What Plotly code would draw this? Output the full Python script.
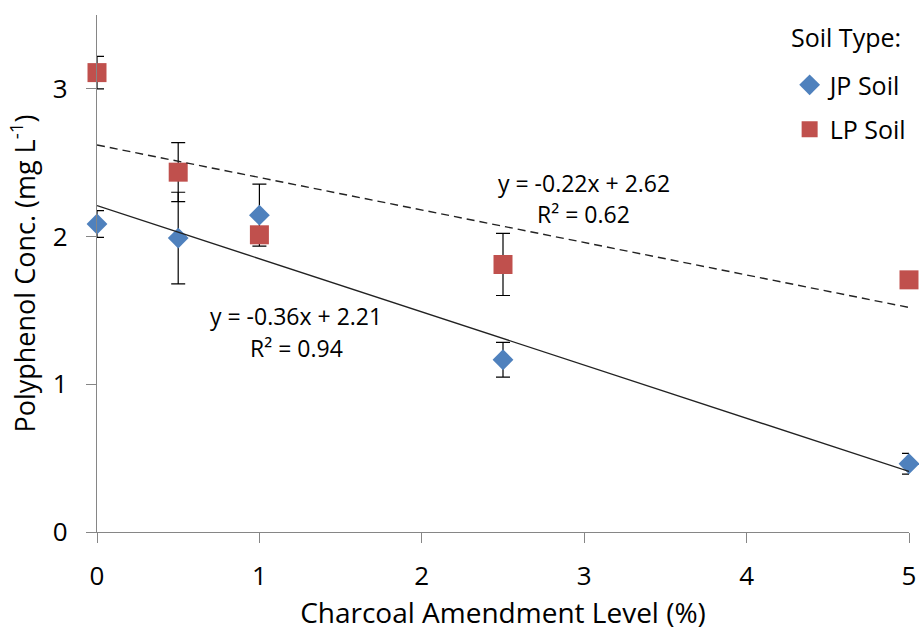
import plotly.graph_objects as go

# ---- data ----
amendment = [0, 0.5, 1, 2.5, 5]
jp_conc = [2.085, 1.99, 2.145, 1.166, 0.462]
jp_err = [0.09, 0.31, 0.21, 0.118, 0.07]
lp_conc = [3.11, 2.436, 2.012, 1.811, 1.707]
lp_err = [0.11, 0.20, 0.05, 0.21, 0.05]

jp_slope, jp_intercept, jp_r2 = -0.36, 2.21, 0.94
lp_slope, lp_intercept, lp_r2 = -0.22, 2.62, 0.62
trend_x = [0, 5]

x_ticks = [0, 1, 2, 3, 4, 5]
y_ticks = [0, 1, 2, 3]

FONT = "'Open Sans', Lato, sans-serif"
BLUE = "#4F81BD"
RED = "#C0504D"
AXIS = "#868686"

fig = go.Figure()

fig.add_trace(go.Scatter(
    x=amendment, y=jp_conc, mode="markers", name="JP Soil",
    legendgroup="jp",
    marker=dict(symbol="diamond", size=16, color=BLUE),
    error_y=dict(type="data", array=jp_err, visible=True, color="black",
                 thickness=1.2, width=7),
    cliponaxis=False,
))
fig.add_trace(go.Scatter(
    x=amendment, y=lp_conc, mode="markers", name="LP Soil",
    legendgroup="lp",
    marker=dict(symbol="square", size=19, color=RED),
    error_y=dict(type="data", array=lp_err, visible=True, color="black",
                 thickness=1.2, width=7),
    cliponaxis=False,
))

fig.add_trace(go.Scatter(
    x=trend_x, y=[jp_intercept + jp_slope * v for v in trend_x],
    mode="lines", showlegend=False, hoverinfo="skip",
    line=dict(color="#222222", width=1.4),
))
fig.add_trace(go.Scatter(
    x=trend_x, y=[lp_intercept + lp_slope * v for v in trend_x],
    mode="lines", showlegend=False, hoverinfo="skip",
    line=dict(color="#222222", width=1.4, dash="8px,5px"),
))

def eq_text(s, b):
    return f"y = {s:.2f}x + {b:.2f}"

ann_font = dict(family=FONT, size=23, color="black")
fig.add_annotation(x=1.228, y=1.459, text=eq_text(jp_slope, jp_intercept),
                   showarrow=False, font=ann_font, xanchor="center", yanchor="middle")
fig.add_annotation(x=1.228, y=1.249, text=f"R² = {jp_r2:.2f}",
                   showarrow=False, font=ann_font, xanchor="center", yanchor="middle")
fig.add_annotation(x=2.998, y=2.366, text=eq_text(lp_slope, lp_intercept),
                   showarrow=False, font=ann_font, xanchor="center", yanchor="middle")
fig.add_annotation(x=2.998, y=2.15, text=f"R² = {lp_r2:.2f}",
                   showarrow=False, font=ann_font, xanchor="center", yanchor="middle")

# legend title as a positioned text
fig.add_annotation(xref="paper", yref="paper", x=0.922, y=0.9565,
                   text="Soil Type:", showarrow=False,
                   font=dict(family=FONT, size=25, color="black"),
                   xanchor="center", yanchor="middle")

fig.update_layout(
    width=919, height=634,
    margin=dict(l=97, r=8, t=15, b=102),
    paper_bgcolor="white", plot_bgcolor="white",
    font=dict(family=FONT, size=24, color="black"),
    legend=dict(
        font=dict(size=25),
        x=0.853, y=0.909, xanchor="left", yanchor="top",
        traceorder="grouped", tracegroupgap=9,
        bgcolor="rgba(0,0,0,0)",
    ),
    xaxis=dict(
        range=[0, 5], tickvals=x_ticks, ticktext=[str(v) for v in x_ticks],
        showgrid=False, zeroline=False, showline=True, linecolor=AXIS, linewidth=1.3,
        ticks="outside", ticklen=10, tickcolor=AXIS, tickwidth=1.3,
        ticklabelstandoff=11, automargin=False,
        tickfont=dict(size=26),
        title=dict(text="Charcoal Amendment Level (%)", font=dict(size=28), standoff=11),
    ),
    yaxis=dict(
        range=[0, 3.5], tickvals=y_ticks, ticktext=[str(v) for v in y_ticks],
        showgrid=False, zeroline=False, showline=True, linecolor=AXIS, linewidth=1.3,
        ticks="outside", ticklen=10, tickcolor=AXIS, tickwidth=1.3,
        ticklabelstandoff=13, automargin=False,
        tickfont=dict(size=26),
        title=dict(text="Polyphenol Conc. (mg L<sup>-1</sup>)", font=dict(size=27), standoff=9),
    ),
)

fig.write_html("out.html", config={"displayModeBar": False},
               post_script="document.body.style.margin='0';document.body.style.overflow='hidden';")
